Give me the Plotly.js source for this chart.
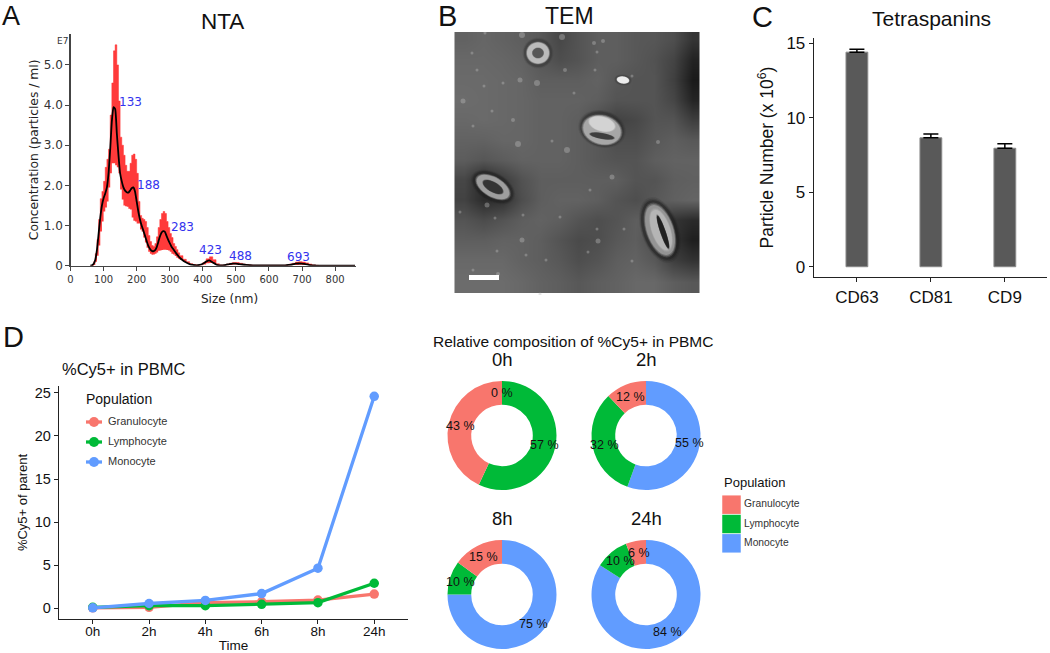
<!DOCTYPE html>
<html><head><meta charset="utf-8">
<script src="https://cdn.plot.ly/plotly-3.0.1.min.js"></script>
<style>html,body{margin:0;padding:0;background:#fff}#c{width:1050px;height:653px}</style>
</head><body><div id="c"></div>
<script>
// ---- Panel A: NTA
const ntaSizes=[60,65,70,75,80,85,90,95,100,105,110,115,120,125,130,135,140,145,150,155,160,165,170,175,180,185,190,195,200,205,210,215,220,225,230,235,240,245,250,255,260,265,270,275,280,285,290,295,300,305,310,315,320,325,330,
340,350,360,370,380,390,400,410,420,430,440,450,460,470,480,490,500,510,520,530,540,550,600,650,660,670,680,690,700,710,720,730,740,750,860];
const ntaMean=[0,.01,.05,.15,.4,.8,1.2,1.5,1.68,1.8,1.95,2.3,2.9,3.6,3.95,3.9,3.3,2.75,2.3,2.1,1.95,1.87,1.83,1.82,1.87,1.93,1.95,1.85,1.6,1.35,1.15,1,.88,.75,.62,.5,.42,.37,.36,.38,.45,.58,.72,.82,.86,.85,.75,.65,.56,.48,.42,.36,.3,.25,.2,
.13,.08,.04,.02,.01,.02,.05,.10,.13,.08,.03,.01,.01,.02,.04,.05,.05,.04,.03,.02,.015,.01,.005,.01,.02,.03,.05,.055,.05,.04,.02,.01,.005,0,0];
const ntaUpper=[0,.02,.1,.3,.65,1.15,1.67,1.85,2.1,2.45,2.65,2.9,3.75,4.55,5.35,5.5,5,4.1,3.2,3,2.75,2.5,2.35,2.35,2.55,2.75,2.78,2.65,2.3,1.6,1.25,1.18,1.15,1.1,.95,.75,.6,.5,.48,.55,.72,.95,1.15,1.3,1.35,1.3,1.1,.95,.8,.7,.55,.48,.4,.32,.25,
.16,.1,.05,.03,.015,.03,.08,.17,.22,.15,.05,.02,.02,.04,.06,.08,.08,.06,.04,.03,.02,.01,.01,.02,.04,.06,.09,.1,.09,.07,.04,.02,.01,0,0];
const ntaLower=[0,0,.02,.1,.25,.5,.85,1.1,1.35,1.45,1.6,1.95,2.3,2.55,2.55,2.5,2.45,2.3,1.9,1.65,1.5,1.48,1.47,1.42,1.4,1.2,1.12,1.1,1.05,1.05,.9,.85,.7,.58,.45,.35,.3,.27,.28,.3,.33,.37,.38,.39,.4,.4,.39,.38,.35,.3,.28,.24,.2,.17,.14,
.1,.06,.03,.01,.005,.01,.03,.06,.07,.04,.01,.005,.005,.01,.02,.03,.03,.02,.01,.01,.005,.005,.002,.005,.01,.015,.02,.025,.02,.015,.01,.005,.002,0,0];
const peakSizes=[133,188,283,423,488,693];
const peakValues=[4.0,1.95,.86,.13,.05,.055];
const peakShiftX=[15.5,16,18,.5,9,-1];
const peakShiftY=[3,2,4,10,8,6.5];
const ntaXTicks=[0,100,200,300,400,500,600,700,800];
const ntaYTicks=[0,1,2,3,4,5];
const ntaYLabels=['0','1.0','2.0','3.0','4.0','5.0'];

// ---- Panel B: TEM (estimated brightness grid, rows top to bottom)
const temGridX=[10,29,48,67,86,105,124,143,162,181,200,219,238];
const temGridY=[8,28,48,68,88,108,128,148,168,188,208,228,250];
const temGray=[
[98,102,98,94,88,72,84,94,94,88,86,78,52],
[104,104,102,98,88,78,84,94,94,88,82,68,34],
[106,106,104,102,94,94,94,98,88,84,84,64,26],
[108,106,104,102,98,98,98,94,84,84,84,70,36],
[104,106,104,102,98,98,94,78,66,72,84,84,62],
[98,98,102,102,98,98,94,88,78,78,88,94,88],
[92,86,92,98,98,98,94,88,84,84,94,98,98],
[70,40,60,82,94,94,94,94,94,84,84,94,96],
[66,44,50,78,94,98,98,94,84,78,88,96,100],
[84,76,84,94,98,94,84,78,84,94,88,52,42],
[94,94,98,98,94,84,74,78,88,94,78,52,30],
[104,104,104,98,94,88,78,84,94,98,88,62,50],
[108,108,108,104,98,94,88,94,98,104,104,94,88]];
const debrisX=[66,83,9,64,59,18,31,98,23,30,19,49,38,108,140,149,111,113,204,143,120,141,178,33,68,43,72,44,19,92,86,6,69,41,158,136,143,144,170,106,178,134,68];
const debrisY=[48,51,69,112,88,21,1,109,38,54,94,51,79,5,11,9,38,118,110,20,61,38,44,173,208,219,223,242,238,228,262,180,183,186,145,158,197,209,197,185,229,220,3];
const debrisSize=[5,6,5,6,4,3,3,3,3,3,3,3,3,6,4,4,4,6,4,3,3,3,3,5,5,3,3,4,3,3,3,3,3,3,5,3,3,5,3,3,3,3,6];
// vesicles: cx, cy, rx, ry, rotation deg, gray, opacity, in image pixels
const vesicleCx=[84,84, 84, 169,169, 148,148,148,148, 39,39,39, 206,206,207,209];
const vesicleCy=[21,21, 21, 48,48, 97,98,92,104, 155,155,155, 198,198,198,200];
const vesicleRx=[14,11, 5.5, 8,6, 22,19,13,12, 22,18,11, 17,13,9,2.6];
const vesicleRy=[14,10.5, 5, 5,3.4, 17,14,7,2.8, 13,9.5,4.8, 31,26,21,17];
const vesicleRot=[0,0, 0, 8,8, 15,15,15,10, 30,30,30, -19,-19,-19,-19];
const vesicleGray=[50,190, 85, 60,240, 40,170,215,55, 30,160,50, 25,150,185,30];
const vesicleAlpha=[.35,.95, .95, .35,.95, .4,.95,.8,.85, .4,.95,.95, .4,.95,.8,.95];
const scaleBarX=[15,45];
const scaleBarY=[243,248];

// ---- Panel C: Tetraspanins
const tetraNames=['CD63','CD81','CD9'];
const tetraValues=[14.4,8.65,7.95];
const tetraErrors=[.2,.25,.3];
const tetraYTicks=[0,5,10,15];

// ---- Panel D: line chart
const timeLabels=['0h','2h','4h','6h','8h','24h'];
const granulocyte=[.05,.1,.65,.75,.95,1.65];
const lymphocyte=[.1,.3,.3,.45,.65,2.9];
const monocyte=[.05,.55,.9,1.7,4.65,24.6];
const lineYTicks=[0,5,10,15,20,25];
const popNames=['Granulocyte','Lymphocyte','Monocyte'];
const popColors=['#F8766D','#00BA38','#619CFF'];

// ---- Panel D: donuts (clockwise from top: Monocyte, Lymphocyte, Granulocyte)
const donutOrder=['Monocyte','Lymphocyte','Granulocyte'];
const donutColors=['#619CFF','#00BA38','#F8766D'];
const donutTitles=['0h','2h','8h','24h'];
const donut0h=[0,57,43];
const donut2h=[55,32,12];
const donut8h=[75,10,15];
const donut24h=[84,10,6];
const donutCx=[502,646,502,646];
const donutCy=[435.5,435.5,594.5,594.5];
const donutR=54.5;
const donutLabels=['0 %','43 %','57 %','12 %','32 %','55 %','15 %','10 %','75 %','6 %','10 %','84 %'];
const donutLabelX=[502,460,544,630,604,689,483,461,533,639,620,667];
const donutLabelY=[393,426,445,397,445,443,557,582,624,553,561,632];

const W=1050,H=653;
const fx=p=>p/W, fy=p=>1-p/H;
const dom=(a,b)=>[a/W,b/W], domY=(top,bot)=>[1-bot/H,1-top/H];
const ARIAL='"Liberation Sans", Arial, sans-serif', DJ='"DejaVu Sans", Verdana, sans-serif';

function txt(text,x,y,size,opts){return Object.assign({text,x:fx(x),y:fy(y),xref:'paper',yref:'paper',showarrow:false,xanchor:'center',yanchor:'middle',font:{family:ARIAL,size,color:'#111'}},opts||{});}
function ellipsePath(cx,cy,rx,ry,deg){
  const t=deg*Math.PI/180,c=Math.cos(t),s=Math.sin(t);let d='';
  for(let i=0;i<=36;i++){const a=i/36*2*Math.PI,ex=rx*Math.cos(a),ey=ry*Math.sin(a);
    d+=(i?'L':'M')+(cx+ex*c-ey*s).toFixed(2)+','+(cy+ex*s+ey*c).toFixed(2);}
  return d+'Z';
}

const traces=[
 {x:ntaSizes,y:ntaLower,xaxis:'x',yaxis:'y',mode:'lines',line:{width:0,shape:'hv'},showlegend:false,hoverinfo:'skip'},
 {x:ntaSizes,y:ntaUpper,xaxis:'x',yaxis:'y',mode:'lines',line:{width:.5,color:'#ff3030',shape:'hv'},fill:'tonexty',fillcolor:'#ff3a3a',showlegend:false},
 {x:ntaSizes,y:ntaMean,xaxis:'x',yaxis:'y',mode:'lines',line:{width:1.8,color:'#000',shape:'spline',smoothing:.5},showlegend:false},

 {type:'heatmap',x:temGridX,y:temGridY,z:temGray,xaxis:'x2',yaxis:'y2',zsmooth:'best',zmin:0,zmax:255,showscale:false,
  colorscale:[[0,'#000'],[1,'#fff']]},
 {x:debrisX,y:debrisY,xaxis:'x2',yaxis:'y2',mode:'markers',marker:{size:debrisSize,color:'rgba(190,190,190,.55)',line:{width:0}},showlegend:false},

 {type:'bar',x:tetraNames,y:tetraValues,xaxis:'x3',yaxis:'y3',width:.295,marker:{color:'#595959',line:{color:'#8a8a8a',width:1}},showlegend:false,
  error_y:{type:'data',symmetric:false,array:tetraErrors,arrayminus:[0,0,0],color:'#000',thickness:1.5,width:7.5}},

 {x:timeLabels,y:granulocyte,name:popNames[0],xaxis:'x4',yaxis:'y4',mode:'lines+markers',line:{color:popColors[0],width:3.3},marker:{size:9.5,color:popColors[0]},showlegend:false},
 {x:timeLabels,y:lymphocyte,name:popNames[1],xaxis:'x4',yaxis:'y4',mode:'lines+markers',line:{color:popColors[1],width:3.3},marker:{size:9.5,color:popColors[1]},showlegend:false},
 {x:timeLabels,y:monocyte,name:popNames[2],xaxis:'x4',yaxis:'y4',mode:'lines+markers',line:{color:popColors[2],width:3.3},marker:{size:9.5,color:popColors[2]},showlegend:false},

 {x:[0,0,0],y:popNames,xaxis:'x5',yaxis:'y5',mode:'markers+text',marker:{symbol:'square',size:18.5,color:popColors},
  text:popNames,textposition:'middle right',textfont:{family:ARIAL,size:10.3,color:'#333'},showlegend:false}
];
// legend key of the line chart, drawn on a small axis of its own
popNames.forEach((n,i)=>{
  traces.push({x:[-8,8],y:[n,n],xaxis:'x6',yaxis:'y6',mode:'lines',line:{color:popColors[i],width:3.3},showlegend:false});
  traces.push({x:[0],y:[n],xaxis:'x6',yaxis:'y6',mode:'markers',marker:{size:10,color:popColors[i]},showlegend:false});
});
traces.push({x:[14,14,14],y:popNames,xaxis:'x6',yaxis:'y6',mode:'text',text:popNames,textposition:'middle right',
  textfont:{family:ARIAL,size:11,color:'#333'},showlegend:false});
[donut0h,donut2h,donut8h,donut24h].forEach((vals,i)=>{
  traces.push({type:'pie',values:vals,labels:donutOrder,sort:false,direction:'clockwise',rotation:0,hole:.565,
    marker:{colors:donutColors,line:{width:0}},textinfo:'none',showlegend:false,
    domain:{x:dom(donutCx[i]-donutR,donutCx[i]+donutR),y:domY(donutCy[i]-donutR,donutCy[i]+donutR)}});
});

const ntaAnn=peakSizes.map((s,i)=>({text:String(s),x:s,y:peakValues[i],xref:'x',yref:'y',showarrow:false,xanchor:'center',yanchor:'middle',
  xshift:peakShiftX[i],yshift:peakShiftY[i],font:{family:DJ,size:12,color:'#3333ee'}}));

const annotations=[
 txt('A',11,16,27),txt('B',447,16,29),txt('C',762,17,29),txt('D',13,337,29),
 txt('NTA',222,22,22.5),txt('TEM',569,16,23),txt('Tetraspanins',931,18,21),
 txt('%Cy5+ in PBMC',60,369,16.5,{xanchor:'left'}),
 txt('Relative composition of %Cy5+ in PBMC',573,342,15.5),
 txt('E7',62,41,9,{font:{family:DJ,size:9,color:'#333'}}),
 txt('Size (nm)',229,299,12,{font:{family:DJ,size:12,color:'#222'}}),
 txt('Population',722,482,13,{xanchor:'left'}),
 txt('Population',84,399,14,{xanchor:'left'}),
].concat(ntaAnn);
donutTitles.forEach((t,i)=>annotations.push(txt(t,donutCx[i],i<2?359:518,18.5)));
donutLabels.forEach((t,i)=>annotations.push(txt(t,donutLabelX[i],donutLabelY[i],12.5)));

const shapes=[];
vesicleCx.forEach((cx,i)=>{
  const g=vesicleGray[i],al=vesicleAlpha[i];
  // three nested ellipses soften the edge, as in the micrograph
  [[1.1,.3],[1.05,.5],[1,1]].forEach(([k,a])=>{
    shapes.push({type:'path',xref:'x2',yref:'y2',layer:'above',
      path:ellipsePath(cx,vesicleCy[i],vesicleRx[i]*k,vesicleRy[i]*k,vesicleRot[i]),
      fillcolor:`rgba(${g},${g},${g},${(al*a).toFixed(2)})`,line:{width:0}});
  });
});
shapes.push({type:'rect',xref:'x2',yref:'y2',x0:scaleBarX[0],x1:scaleBarX[1],y0:scaleBarY[0],y1:scaleBarY[1],fillcolor:'#fff',line:{width:0},layer:'above'});

const blank={visible:false,fixedrange:true};
const layout={
 width:W,height:H,margin:{l:0,r:0,t:0,b:0},paper_bgcolor:'#fff',plot_bgcolor:'rgba(0,0,0,0)',
 font:{family:ARIAL,color:'#222'},showlegend:false,
 annotations,shapes,
 xaxis:{domain:dom(70.5,356),anchor:'y',range:[0,863],tickvals:ntaXTicks,ticks:'outside',ticklen:4,tickcolor:'#444',showgrid:false,zeroline:false,showline:true,linecolor:'#444',linewidth:1.3,
   tickfont:{family:DJ,size:10,color:'#333'}},
 yaxis:{domain:domY(34,265.7),anchor:'x',range:[0,5.77],tickvals:ntaYTicks,ticktext:ntaYLabels,ticks:'outside',ticklen:4,tickcolor:'#444',showgrid:false,zeroline:false,showline:true,linecolor:'#444',linewidth:1.3,
   tickfont:{family:DJ,size:12,color:'#333'},title:{text:'Concentration (particles / ml)',font:{family:DJ,size:12.3,color:'#222'},standoff:2}},
 xaxis2:Object.assign({domain:dom(454,700),anchor:'y2',range:[0,246]},blank),
 yaxis2:Object.assign({domain:domY(32,295),anchor:'x2',range:[263,0]},blank),
 xaxis3:{domain:dom(814,1047),anchor:'y3',type:'category',range:[-.58,2.57],ticks:'outside',ticklen:4,tickcolor:'#222',showgrid:false,zeroline:false,showline:true,linecolor:'#222',linewidth:1.3,
   tickfont:{family:ARIAL,size:17,color:'#111'}},
 yaxis3:{domain:domY(38,277),anchor:'x3',range:[-.69,15.35],tickvals:tetraYTicks,ticks:'outside',ticklen:4,tickcolor:'#222',showgrid:false,zeroline:false,showline:true,linecolor:'#222',linewidth:1.3,
   tickfont:{family:ARIAL,size:17,color:'#111'},title:{text:'Particle Number (x 10<sup>6</sup>)',font:{family:ARIAL,size:17.5,color:'#111'},standoff:8}},
 xaxis4:{domain:dom(59,408),anchor:'y4',type:'category',range:[-.6,5.6],ticks:'outside',ticklen:4,tickcolor:'#222',showgrid:false,zeroline:false,showline:true,linecolor:'#222',linewidth:1.2,ticklabelstandoff:-4,
   tickfont:{family:ARIAL,size:13.5,color:'#111'},title:{text:'Time',font:{family:ARIAL,size:13.5,color:'#111'},standoff:8}},
 yaxis4:{domain:domY(386,619),anchor:'x4',range:[-1.25,25.8],tickvals:lineYTicks,ticks:'outside',ticklen:4,tickcolor:'#222',showgrid:false,zeroline:false,showline:true,linecolor:'#222',linewidth:1.2,
   tickfont:{family:ARIAL,size:14.5,color:'#111'},title:{text:'%Cy5+ of parent',font:{family:ARIAL,size:13,color:'#111'},standoff:4}},
 xaxis5:Object.assign({domain:dom(722,840),anchor:'y5',range:[-9.5,108.5]},blank),
 yaxis5:Object.assign({domain:domY(495,553),anchor:'x5',type:'category',categoryorder:'array',categoryarray:popNames,range:[2.5,-.5]},blank),
 xaxis6:Object.assign({domain:dom(80,200),anchor:'y6',range:[-14,106]},blank),
 yaxis6:Object.assign({domain:domY(412,472),anchor:'x6',type:'category',categoryorder:'array',categoryarray:popNames,range:[2.5,-.5]},blank)
};
Plotly.newPlot('c',traces,layout,{staticPlot:true,displayModeBar:false});
</script></body></html>
